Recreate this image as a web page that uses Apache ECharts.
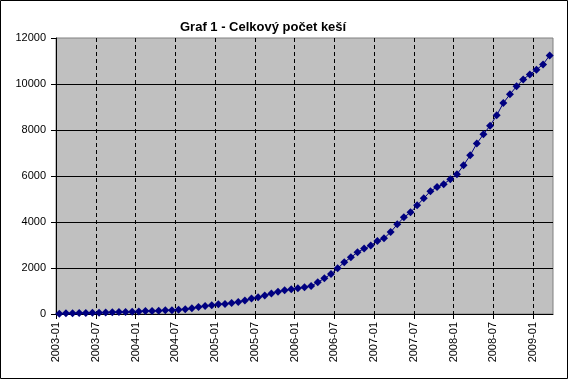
<!DOCTYPE html>
<html>
<head>
<meta charset="utf-8">
<script src="https://cdn.jsdelivr.net/npm/echarts@6/dist/echarts.min.js"></script>
<style>
html,body{margin:0;padding:0;background:#fff;}
#c{width:568px;height:379px;}
</style>
</head>
<body>
<div id="c"></div>
<script>
var titleText = 'Graf 1 - Celkový počet keší';
var months = [
 '2003-01','2003-02','2003-03','2003-04','2003-05','2003-06','2003-07','2003-08','2003-09','2003-10','2003-11','2003-12',
 '2004-01','2004-02','2004-03','2004-04','2004-05','2004-06','2004-07','2004-08','2004-09','2004-10','2004-11','2004-12',
 '2005-01','2005-02','2005-03','2005-04','2005-05','2005-06','2005-07','2005-08','2005-09','2005-10','2005-11','2005-12',
 '2006-01','2006-02','2006-03','2006-04','2006-05','2006-06','2006-07','2006-08','2006-09','2006-10','2006-11','2006-12',
 '2007-01','2007-02','2007-03','2007-04','2007-05','2007-06','2007-07','2007-08','2007-09','2007-10','2007-11','2007-12',
 '2008-01','2008-02','2008-03','2008-04','2008-05','2008-06','2008-07','2008-08','2008-09','2008-10','2008-11','2008-12',
 '2009-01','2009-02','2009-03'
];
var counts = [
 15,29,35,40,45,50,55,60,80,85,90,95,
 105,130,135,140,160,165,190,210,250,300,350,385,
 420,430,475,525,590,670,725,805,890,965,1035,1072,
 1116,1165,1217,1377,1550,1735,1985,2250,2463,2681,2845,2975,
 3173,3289,3560,3898,4202,4419,4724,5028,5340,5520,5645,5860,
 6071,6463,6900,7410,7810,8187,8636,9172,9549,9897,10201,10418,
 10621,10853,11244
];
var xTickLabels = ['2003-01','2003-07','2004-01','2004-07','2005-01','2005-07','2006-01','2006-07','2007-01','2007-07','2008-01','2008-07','2009-01'];
var yTicks = [0,2000,4000,6000,8000,10000,12000];

var FONT = "'Liberation Sans', Arial, sans-serif";
var seriesData = months.map(function(m, i){ return [i + 0.5, counts[i]]; });

var chart = echarts.init(document.getElementById('c'), null, {renderer:'canvas'});
chart.setOption({
  animation: false,
  backgroundColor: '#ffffff',
  title: {
    text: titleText,
    left: 175, top: 16,
    textStyle: {fontFamily: FONT, fontSize: 13, fontWeight: 'bold', color: '#000'}
  },
  graphic: [{
    type: 'rect', z: 100,
    shape: {x: 0.5, y: 0.5, width: 567, height: 378},
    style: {fill: 'none', stroke: '#000', lineWidth: 1}
  }],
  grid: {
    left: 56, right: 15, top: 38, bottom: 65,
    show: true, backgroundColor: '#C0C0C0', borderColor: '#808080', borderWidth: 1
  },
  xAxis: {
    type: 'value', min: 0, max: months.length, interval: 6,
    axisLine: {show: true, lineStyle: {color: '#000', width: 1}},
    axisTick: {show: true, length: 5, lineStyle: {color: '#000'}},
    axisLabel: {
      rotate: 90, margin: 8, color: '#000', fontFamily: FONT, fontSize: 11,
      showMaxLabel: false,
      formatter: function(v){ return (v % 6 === 0 && xTickLabels[v/6]) ? xTickLabels[v/6] : ''; }
    },
    splitLine: {show: true, showMinLine: false, showMaxLine: false,
      lineStyle: {color: '#000', width: 1, type: [4, 3]}}
  },
  yAxis: {
    type: 'value', min: yTicks[0], max: yTicks[yTicks.length-1], interval: 2000,
    axisLine: {show: true, lineStyle: {color: '#000', width: 1}},
    axisTick: {show: true, length: 5, lineStyle: {color: '#000'}},
    axisLabel: {margin: 10, color: '#000', fontFamily: FONT, fontSize: 11,
      formatter: function(v){ return String(v); }},
    splitLine: {show: true, showMinLine: false, showMaxLine: false,
      lineStyle: {color: '#000', width: 1}}
  },
  series: [{
    type: 'line',
    data: seriesData,
    symbol: 'diamond', symbolSize: 8,
    lineStyle: {color: '#000080', width: 1},
    itemStyle: {color: '#000080'},
    clip: false
  }]
});
</script>
</body>
</html>
